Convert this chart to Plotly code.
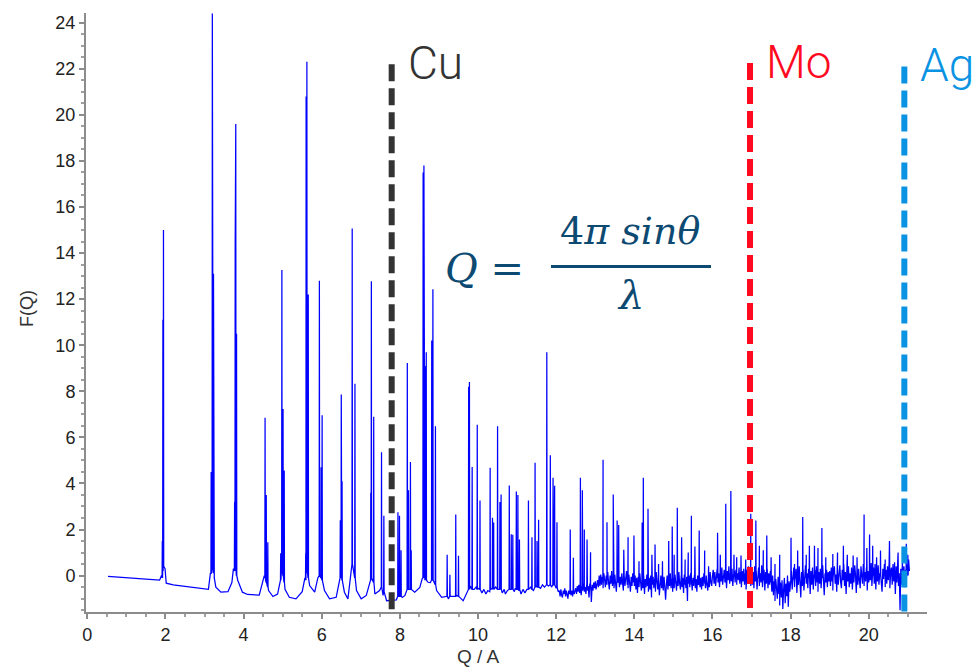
import plotly.graph_objects as go

# ---------------- data ----------------
# slowly varying background of F(Q) (Q, F)
base_q = [0.53, 1.0, 1.5, 1.85, 1.90, 1.99, 2.02, 2.2, 2.6, 3.0, 3.1, 3.15, 3.25, 3.29, 3.42, 3.6, 3.7, 3.74,
          3.85, 3.97, 4.1, 4.4, 4.5, 4.53, 4.64, 4.75, 4.87, 4.93, 5.06, 5.17, 5.34, 5.5, 5.57, 5.69, 5.82,
          5.9, 6.07, 6.2, 6.37, 6.45, 6.58, 6.67, 6.75, 6.89, 7.01, 7.14, 7.23, 7.36, 7.48, 7.57, 7.66, 7.8,
          7.91, 8.06, 8.13, 8.38, 8.51, 8.57, 8.72, 8.78, 8.94, 9.07, 9.24, 9.45, 9.62, 9.73,
          9.80, 9.90, 9.95, 10.0, 10.1, 10.15, 10.2, 10.25, 10.3, 10.35, 10.45, 10.55, 10.62, 10.67, 10.7,
          10.75, 10.87, 10.93, 10.95, 11.05, 11.1, 11.15, 11.2, 11.25, 11.35, 11.42, 11.5, 11.6, 11.65,
          11.7, 11.8, 11.88, 11.94, 12.0, 12.05]
base_f = [-0.03, -0.08, -0.15, -0.2, 0.0, 0.3, -0.33, -0.4, -0.5, -0.6, -0.6, 0.1, -0.1, -0.5, -0.72, -0.7, -0.3, 0.3,
          -0.2, -0.72, -0.82, -0.85, -0.2, 0.0, -0.65, -0.91, -0.8, -0.2, -0.6, -0.94, -1.01, -0.7, -0.1, -0.43, -0.72,
          -0.1, -0.65, -1.01, -0.94, -0.1, -0.72, -1.01, 0.0, -0.65, -1.01, -0.86, -0.22, -0.8, -0.65, -0.86, -1.09, -1.05,
          -1.05, -0.95, -0.86, -0.72, -0.51, -0.14, -0.29, -0.3, -0.65, -0.94, -1.01, -0.86, -1.09, -0.65,
          -0.45, -0.6, -0.5, -0.55, -0.75, -0.6, -0.8, -0.65, -0.7, -0.55, -0.5, -0.6, -0.75, -0.6, -0.8,
          -0.65, -0.55, -0.7, -0.55, -0.65, -0.8, -0.6, -0.75, -0.6, -0.5, -0.65, -0.45, -0.55, -0.4,
          -0.5, -0.45, -0.5, -0.4, -0.55, -0.7]

# Bragg peaks: position, top value, local foot value
peak_q = [1.92, 1.935, 1.95, 3.17, 3.20, 3.23, 3.77, 3.785, 3.80, 3.82, 4.55, 4.58, 4.62, 4.95, 4.98, 5.01, 5.04,
          5.59, 5.60, 5.62, 5.655, 5.94, 5.985, 6.01, 6.475, 6.50, 6.52, 6.78, 6.85, 7.255, 7.27, 7.33, 7.53, 7.59,
          7.95, 7.99, 8.03, 8.19, 8.22, 8.27, 8.29, 8.595, 8.615, 8.645, 8.675, 8.815, 8.845, 8.91, 9.21, 9.28,
          9.43, 9.5, 9.76, 9.78, 9.85, 9.98, 10.05, 10.31, 10.37, 10.40, 10.5, 10.56, 10.59, 10.8, 10.85, 10.89,
          10.98, 11.02, 11.06, 11.29, 11.38, 11.46, 11.51, 11.55, 11.76, 11.85, 11.92, 11.96, 12.02, 12.36, 12.44,
          12.62, 12.67, 12.72, 12.79, 12.88, 13.2, 13.3, 13.46, 13.56, 13.6, 13.73, 13.84, 13.99, 14.12, 14.2,
          14.23, 14.35, 14.45, 14.53, 14.62, 14.72, 14.88, 14.97, 15.02, 15.1, 15.21, 15.3, 15.38, 15.46, 15.55,
          15.66, 15.8, 15.9, 16.13, 16.2, 16.34, 16.47, 16.55, 16.62, 16.73, 16.85, 16.98, 17.11, 17.2, 17.3,
          17.39, 17.5, 17.6, 17.72, 18.01, 18.1, 18.18, 18.31, 18.4, 18.48, 18.61, 18.7, 18.8, 18.9, 19.08,
          19.2, 19.35, 19.45, 19.6, 19.7, 19.88, 19.95, 20.02, 20.1, 20.2, 20.3, 20.42, 20.53, 20.66, 20.75,
          20.96, 21.0]
peak_f = [1.5, 11.1, 15.0, 4.5, 24.4, 13.1, 3.2, 14.3, 19.6, 10.5, 6.85, 3.5, 1.45, 0.97, 13.26, 7.23, 4.56,
          0.97, 20.8, 22.3, 12.2, 12.8, 4.7, 6.96, 2.4, 7.86, 4.1, 15.07, 8.33, 3.6, 12.78, 6.9, 5.35, 2.6,
          2.75, 2.6, 1.1, 9.23, 3.7, 4.93, 1.1, 17.5, 17.8, 9.1, 9.7, 10.2, 12.43, 6.48, 0.91, 0.04,
          2.65, 0.86, 8.2, 8.4, 4.71, 6.55, 3.26, 4.68, 2.51, 2.3, 6.48, 3.2, 3.52, 3.91, 1.8, 1.77,
          3.65, 3.5, 1.57, 3.26, 1.67, 4.9, 1.5, 2.42, 9.7, 5.22, 4.25, 3.9, 2.32, 2.0, 0.77,
          4.25, 3.7, 2.0, 1.57, 1.01, 5.03, 2.32, 3.52, 2.39, 2.2, 1.12, 1.67, 1.74, 0.62, 2.3,
          4.25, 2.9, 0.9, 1.35, 0.5, 0.62, 1.5, 2.13, 0.9, 2.94, 1.67, 0.7, 1.0, 2.6, 1.26,
          1.96, 1.09, 0.4, 1.86, 0.9, 3.12, 3.67, 0.9, 0.8, 0.87, 0.7, 2.68, 2.39, 1.3, 1.1,
          1.74, 0.8, 0.5, 0.9, 1.64, 0.5, 1.09, 2.54, 0.9, 1.3, 1.3, 1.2, 2.07, 0.8, 0.94,
          1.0, 1.3, 0.9, 0.87, 0.8, 2.65, 1.2, 1.78, 1.3, 0.8, 1.09, 0.7, 1.5, 0.58, 1.0,
          1.38, 0.9]
peak_foot = [-0.1, 0.2, 0.4, 0.1, 0.3, 0.1, 0.2, 0.3, 0.3, 0.0, -0.1, -0.3, -0.5, -0.2, 0.4, 0.0, -0.3,
             -0.2, 0.1, 0.3, -0.1, 0.0, -0.1, -0.2, -0.1, 0.0, -0.2, 0.5, -0.1, -0.2, -0.1, -0.3, -0.5, -0.7,
             -0.9, -0.9, -0.9, -0.6, -0.6, -0.6, -0.6, -0.1, -0.1, -0.2, -0.2, -0.2, -0.2, -0.4, -0.9, -0.9,
             -0.9, -0.9, -0.6, -0.6, -0.6, -0.6, -0.6, -0.6, -0.6, -0.6, -0.6, -0.6, -0.6, -0.6, -0.6, -0.6,
             -0.6, -0.6, -0.6, -0.6, -0.6, -0.5, -0.5, -0.5, -0.4, -0.4, -0.4, -0.4, -0.5, -0.7, -0.7,
             -0.6, -0.6, -0.6, -0.6, -0.5, -0.2, -0.2, -0.2, -0.2, -0.2, -0.2, -0.2, -0.2, -0.3, -0.3,
             -0.3, -0.3, -0.3, -0.3, -0.3, -0.3, -0.3, -0.3, -0.3, -0.2, -0.2, -0.2, -0.2, -0.2, -0.2,
             -0.2, -0.2, -0.2, -0.1, -0.1, -0.1, -0.1, 0.0, 0.0, 0.0, 0.0, -0.1, -0.1, -0.1, -0.1,
             -0.1, -0.3, -0.4, -0.4, -0.2, -0.2, -0.2, -0.1, -0.1, -0.1, -0.1, -0.1, -0.1, -0.1, -0.1,
             -0.1, -0.1, -0.1, -0.1, -0.1, 0.0, 0.0, 0.0, 0.0, 0.0, 0.0, 0.0, 0.0, 0.0, 0.0,
             0.0, 0.0]

# high-Q noisy part, sampled every 0.02 from each segment start
noise_step = 0.02
noise_start = [12.08, 12.50, 13.10, 14.00, 15.00, 16.00, 17.00, 17.50, 18.00, 19.00, 20.00]
noise_f = [
    [-0.65, -0.9, -0.6, -0.85, -0.95, -0.65, -0.8, -0.55, -0.9, -0.65, -0.85, -1.0, -0.65, -0.8, -0.55, -0.85,
     -0.65, -0.9, -0.6, -0.8, -0.7],
    [-0.55, -0.8, -0.45, -0.7, -0.4, -0.75, -0.5, -0.85, -0.45, -0.65, -0.35, -0.7, -0.5, -0.8, -0.4, -0.65, -0.45,
     -0.95, -0.35, -0.6, -1.15, -0.4, -0.65, -0.3, -0.55, -0.25, -0.6, -0.35, -0.2, -0.5],
    [0.0, -0.45, 0.05, -0.4, -0.05, -0.55, 0.1, -0.35, -0.5, 0.0, -0.4, 0.15, -0.3, -0.6, 0.0, -0.35, 0.2,
     -0.45, -0.05, -0.55, 0.05, -0.4, -0.7, 0.0, -0.3, 0.15, -0.5, -0.05, -0.4, 0.1, -0.35, -0.65, 0.0, -0.45,
     -0.1, 0.2, -0.4, -0.55, 0.05, -0.35, -0.7, -0.05, -0.45, 0.1, -0.3],
    [-0.45, 0.0, -0.6, -0.1, -0.75, -0.05, -0.5, 0.1, -0.4, -0.65, -0.1, -0.55, 0.0, -0.8, -0.15, -0.5, 0.05,
     -0.45, -0.7, -0.1, -0.6, 0.0, -0.95, -0.4, -0.05, -0.55, -0.15, -0.7, 0.15, -0.45, -0.6, -0.1, -0.85, -0.4,
     0.0, -0.55, -0.15, -0.65, -0.05, -0.5, -1.05, -0.4, 0.0, -0.6, -0.1, -0.45, 0.1, -0.55, -0.15, -0.7],
    [-0.1, -0.55, 0.05, -0.4, -0.65, -0.05, -0.45, 0.15, -0.35, -0.6, 0.0, -0.5, -0.1, -0.75, 0.05, -0.4, -0.55,
     -0.05, -1.1, -0.35, 0.0, -0.5, 0.1, -0.4, -0.65, -0.1, -0.45, 0.05, -0.55, -0.15, -0.7, 0.0, -0.4, 0.15,
     -0.5, -0.1, -0.6, -0.05, -0.45, 0.1, -0.35, -0.55, 0.0, -0.4, -0.65, -0.05, -0.5, 0.15, -0.3, -0.45],
    [0.0, 0.25, -0.35, 0.15, -0.45, 0.05, 0.3, -0.3, 0.1, -0.5, 0.2, -0.25, 0.35, -0.4, 0.05, 0.25, -0.3, 0.15,
     -0.55, 0.2, -0.2, 0.4, -0.35, 0.1, -0.25, 0.3, -0.45, 0.05, 0.2, -0.3, 0.25, -0.4, 0.1, -0.2, 0.35, -0.35,
     0.15, -0.5, 0.2, -0.25, 0.3, -0.4, 0.1, -0.6, 0.25, -0.2, 0.4, -0.3, 0.15, -0.45],
    [0.3, -0.4, 0.15, -0.55, 0.4, -0.25, 0.2, -0.6, 0.05, 0.35, -0.45, 0.1, -0.3, 0.45, -0.5, -0.2, 0.25, -0.65,
     0.15, -0.35, 0.3, -0.55, 0.1, -0.4, 0.2],
    [-0.1, -0.7, 0.0, -0.85, -0.25, -1.1, -0.15, -0.65, -1.0, -0.05, -0.8, -1.3, -0.3, -0.95, -0.2, -1.45, -0.6,
     -0.1, -1.2, -0.35, -0.9, 0.0, -1.35, -0.25, -0.7],
    [-0.4, 0.2, -0.6, 0.05, 0.35, -0.5, -0.05, 0.3, -0.75, 0.1, -0.4, 0.4, -0.3, -0.95, 0.15, -0.45, 0.25, -0.65,
     0.0, 0.45, -0.35, 0.1, -0.55, 0.3, -0.05, -0.8, 0.2, -0.4, 0.35, -0.6, 0.05, 0.25, -0.45, 0.4, -0.3, -0.7,
     0.15, -0.35, 0.3, -0.55, 0.0, 0.45, -0.4, -0.85, 0.1, -0.3, 0.25, -0.5, 0.15, -0.25],
    [0.2, -0.45, 0.35, -0.25, -0.65, 0.15, 0.4, -0.35, 0.05, -0.7, 0.3, -0.4, 0.1, 0.45, -0.3, -0.55, 0.25, -0.2,
     0.5, -0.45, 0.15, -0.8, 0.3, -0.25, 0.4, -0.5, 0.1, -0.35, 0.35, -0.6, 0.2, -0.3, 0.45, 0.05, -0.75, 0.25,
     -0.4, 0.3, -0.2, -0.55, 0.4, 0.1, -0.35, 0.5, -0.45, 0.15, -0.25, 0.35, -0.65, 0.2],
    [-0.3, 0.4, -0.2, 0.55, -0.45, 0.15, 0.35, -0.35, 0.5, -0.6, 0.2, -0.25, 0.45, -0.4, 0.1, 0.6, -0.3, -0.7,
     0.3, -0.15, 0.5, -0.5, 0.25, -0.35, 0.4, -0.2, 0.55, -0.55, 0.15, 0.35, -0.4, 0.5, -0.25, 0.2, -0.8, 0.4,
     -0.3, 0.6, -0.45, 0.1, -1.5, 0.3, -0.4, 0.55, -0.2, 0.4, -0.5, 0.25, -0.3, 0.45, 0.1, 0.7, 0.2],
]

# X-ray source cut-off lines (Q max)
edge_labels = ["Cu", "Mo", "Ag"]
edge_q = [7.79, 16.96, 20.91]
edge_top = [22.2, 22.25, 22.1]
edge_colors = ["#333333", "#FF0A1E", "#0A93E3"]

x_ticks = [0, 2, 4, 6, 8, 10, 12, 14, 16, 18, 20]
y_ticks = [0, 2, 4, 6, 8, 10, 12, 14, 16, 18, 20, 22, 24]

# ---------------- build the trace ----------------
half_w = 0.006
pts = list(zip(base_q, base_f))
for q, f, ft in zip(peak_q, peak_f, peak_foot):
    pts += [(q - half_w, ft), (q, f), (q + half_w, ft)]
for q0, seg in zip(noise_start, noise_f):
    for i, v in enumerate(seg):
        pts.append((q0 + i * noise_step, v))
pts.sort(key=lambda p: p[0])
xs = [p[0] for p in pts]
ys = [p[1] for p in pts]

fig = go.Figure()
fig.add_trace(go.Scatter(x=xs, y=ys, mode="lines",
                         line=dict(color="#0000FF", width=1.25), hoverinfo="skip", showlegend=False))

# layout geometry (pixels)
W, H = 977, 668
L, R, T, B = 86, 50, 13, 56
pw, ph = W - L - R, H - T - B
def px(x):
    return (x - L) / pw
def py(y):
    return (H - B - y) / ph

shapes = []
annotations = []
for lab, q, top, col in zip(edge_labels, edge_q, edge_top, edge_colors):
    shapes.append(dict(type="line", xref="x", yref="y", x0=q, x1=q, y0=top, y1=-1.58,
                       line=dict(color=col, width=6, dash="17px,7px"), layer="above"))
    annotations.append(dict(x=q, y=top, xref="x", yref="y", text=lab, showarrow=False,
                            xanchor="left", yanchor="middle", xshift=14, yshift=1,
                            font=dict(family="Roboto", size=46, color=col, weight=300)))

math_col = "#0D4A72"
annotations += [
    dict(x=px(484), y=py(268), xref="paper", yref="paper", text="<i>Q</i> =", showarrow=False,
         xanchor="center", yanchor="middle", font=dict(family="DejaVu Serif", size=40, color=math_col)),
    dict(x=px(630), y=py(231), xref="paper", yref="paper", text="4<i>π</i>&nbsp;<i>sinθ</i>",
         showarrow=False, xanchor="center", yanchor="middle",
         font=dict(family="DejaVu Serif", size=38, color=math_col)),
    dict(x=px(630), y=py(295), xref="paper", yref="paper", text="<i>λ</i>", showarrow=False,
         xanchor="center", yanchor="middle", font=dict(family="DejaVu Serif", size=40, color=math_col)),
    dict(x=px(27), y=py(309), xref="paper", yref="paper", text="F(Q)", showarrow=False, textangle=-90,
         xanchor="center", yanchor="middle", font=dict(family="Liberation Sans", size=18, color="#333333")),
    dict(x=px(478), y=py(656), xref="paper", yref="paper", text="Q / A", showarrow=False,
         xanchor="center", yanchor="middle", font=dict(family="Liberation Sans", size=19, color="#333333")),
]
shapes.append(dict(type="line", xref="paper", yref="paper", x0=px(551), x1=px(711), y0=py(266.5), y1=py(266.5),
                   line=dict(color=math_col, width=3)))

axis_common = dict(showline=True, linecolor="#8C8C8C", linewidth=2, ticks="outside", ticklen=5, tickwidth=2,
                   tickcolor="#8C8C8C", showgrid=False, zeroline=False,
                   tickfont=dict(family="Liberation Sans", size=18, color="#222222"),
                   minor=dict(ticks="outside", ticklen=3, tickwidth=1.5, tickcolor="#A0A0A0", dtick=0.5,
                              showgrid=False))

fig.update_layout(
    width=W, height=H, margin=dict(l=L, r=R, t=T, b=B),
    paper_bgcolor="white", plot_bgcolor="white",
    xaxis=dict(range=[-0.033, 21.49], tickvals=x_ticks, ticktext=[str(v) for v in x_ticks], **axis_common),
    yaxis=dict(range=[-1.58, 24.42], tickvals=y_ticks, ticktext=[str(v) for v in y_ticks], **axis_common),
    shapes=shapes, annotations=annotations, showlegend=False,
)
fig.write_html("out.html")
